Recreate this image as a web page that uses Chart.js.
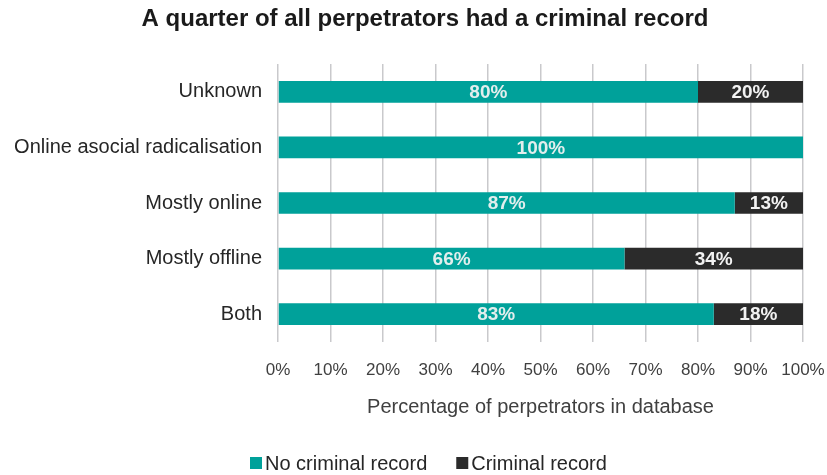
<!DOCTYPE html>
<html>
<head>
<meta charset="utf-8">
<script src="https://cdn.jsdelivr.net/npm/chart.js@4/dist/chart.umd.min.js"></script>
<style>
  html, body { margin: 0; padding: 0; background: #ffffff; }
  #wrap { width: 827px; height: 475px; position: relative; }
</style>
</head>
<body>
<div id="wrap"><canvas id="chart"></canvas></div>
<script>
// Pathway categories (top to bottom) and share of perpetrators per group
const categories = ['Unknown', 'Online asocial radicalisation', 'Mostly online', 'Mostly offline', 'Both'];
const noRecord = [80, 100, 87, 66, 83];
const criminalRecord = [20, 0, 13, 34, 18];
const seriesNames = ['No criminal record', 'Criminal record'];
const xTicks = [0, 10, 20, 30, 40, 50, 60, 70, 80, 90, 100];
const chartTitle = 'A quarter of all perpetrators had a criminal record';

const FONT = "'Liberation Sans', Arial, sans-serif";
const TEAL = '#00a19a';
const DARK = '#2b2b2b';

// Bold heading above the plot
const heading = {
  id: 'heading',
  afterDraw(chart) {
    const ctx = chart.ctx;
    ctx.save();
    ctx.font = 'bold 24px ' + FONT;
    ctx.fillStyle = '#1a1a1a';
    ctx.textAlign = 'center';
    ctx.textBaseline = 'middle';
    ctx.fillText(chartTitle, 425, 19);
    ctx.restore();
  }
};

// Writes each segment's percentage in the middle of its bar
const segmentLabels = {
  id: 'segmentLabels',
  afterDatasetsDraw(chart) {
    const ctx = chart.ctx;
    const area = chart.chartArea;
    ctx.save();
    ctx.font = 'bold 19px ' + FONT;
    ctx.textAlign = 'center';
    ctx.textBaseline = 'middle';
    chart.data.datasets.forEach((ds, di) => {
      const meta = chart.getDatasetMeta(di);
      meta.data.forEach((bar, i) => {
        const v = ds.data[i];
        if (!v) return;
        const left = Math.max(Math.min(bar.base, bar.x), area.left);
        const right = Math.min(Math.max(bar.base, bar.x), area.right);
        ctx.fillStyle = di === 0 ? '#e2eeed' : '#f2f2f2';
        ctx.fillText(v + '%', (left + right) / 2, bar.y + 1);
      });
    });
    ctx.restore();
  }
};

// Compact legend: small square swatch followed closely by the series name
const compactLegend = {
  id: 'compactLegend',
  afterDraw(chart) {
    const ctx = chart.ctx;
    const box = 12, gap = 3, itemGap = 29;
    const y = 464;
    ctx.save();
    ctx.font = '20px ' + FONT;
    ctx.textBaseline = 'middle';
    ctx.textAlign = 'left';
    let x = 250;
    chart.data.datasets.forEach(ds => {
      ctx.fillStyle = ds.backgroundColor;
      ctx.fillRect(x, y - box / 2 - 1, box, box);
      x += box + gap;
      ctx.fillStyle = '#262626';
      ctx.fillText(ds.label, x, y);
      x += ctx.measureText(ds.label).width + itemGap;
    });
    ctx.restore();
  }
};

new Chart(document.getElementById('chart'), {
  type: 'bar',
  data: {
    labels: categories,
    datasets: [
      { label: seriesNames[0], data: noRecord, backgroundColor: TEAL, borderWidth: 0,
        barPercentage: 0.78, categoryPercentage: 0.5 },
      { label: seriesNames[1], data: criminalRecord, backgroundColor: DARK, borderWidth: 0,
        barPercentage: 0.78, categoryPercentage: 0.5 }
    ]
  },
  options: {
    indexAxis: 'y',
    responsive: true,
    maintainAspectRatio: false,
    animation: false,
    layout: { padding: { left: 14, right: 24, top: 64, bottom: 56 } },
    scales: {
      x: {
        stacked: true,
        min: 0,
        max: 100,
        afterBuildTicks(scale) { scale.ticks = xTicks.map(v => ({ value: v })); },
        afterFit(scale) { scale.height = 77; scale.paddingLeft = 0; scale.paddingRight = 0; },
        grid: { color: '#c9c9cc', lineWidth: 1.5, drawTicks: false },
        border: { display: false },
        ticks: { color: '#404040', font: { family: FONT, size: 17 }, padding: 18,
                 maxRotation: 0, minRotation: 0, autoSkip: false,
                 callback: v => v + '%' },
        title: { display: true, text: 'Percentage of perpetrators in database',
                 color: '#404040', font: { family: FONT, size: 20 }, padding: { top: 15, bottom: 0 } }
      },
      y: {
        stacked: true,
        afterFit(scale) { scale.width = 264; scale.paddingTop = 0; scale.paddingBottom = 0; },
        grid: { display: false, drawTicks: false },
        border: { display: false },
        ticks: { color: '#262626', font: { family: FONT, size: 20 }, padding: 16 }
      }
    },
    plugins: {
      title: { display: false },
      legend: { display: false },
      tooltip: { enabled: false }
    }
  },
  plugins: [segmentLabels, compactLegend, heading]
});
</script>
</body>
</html>
